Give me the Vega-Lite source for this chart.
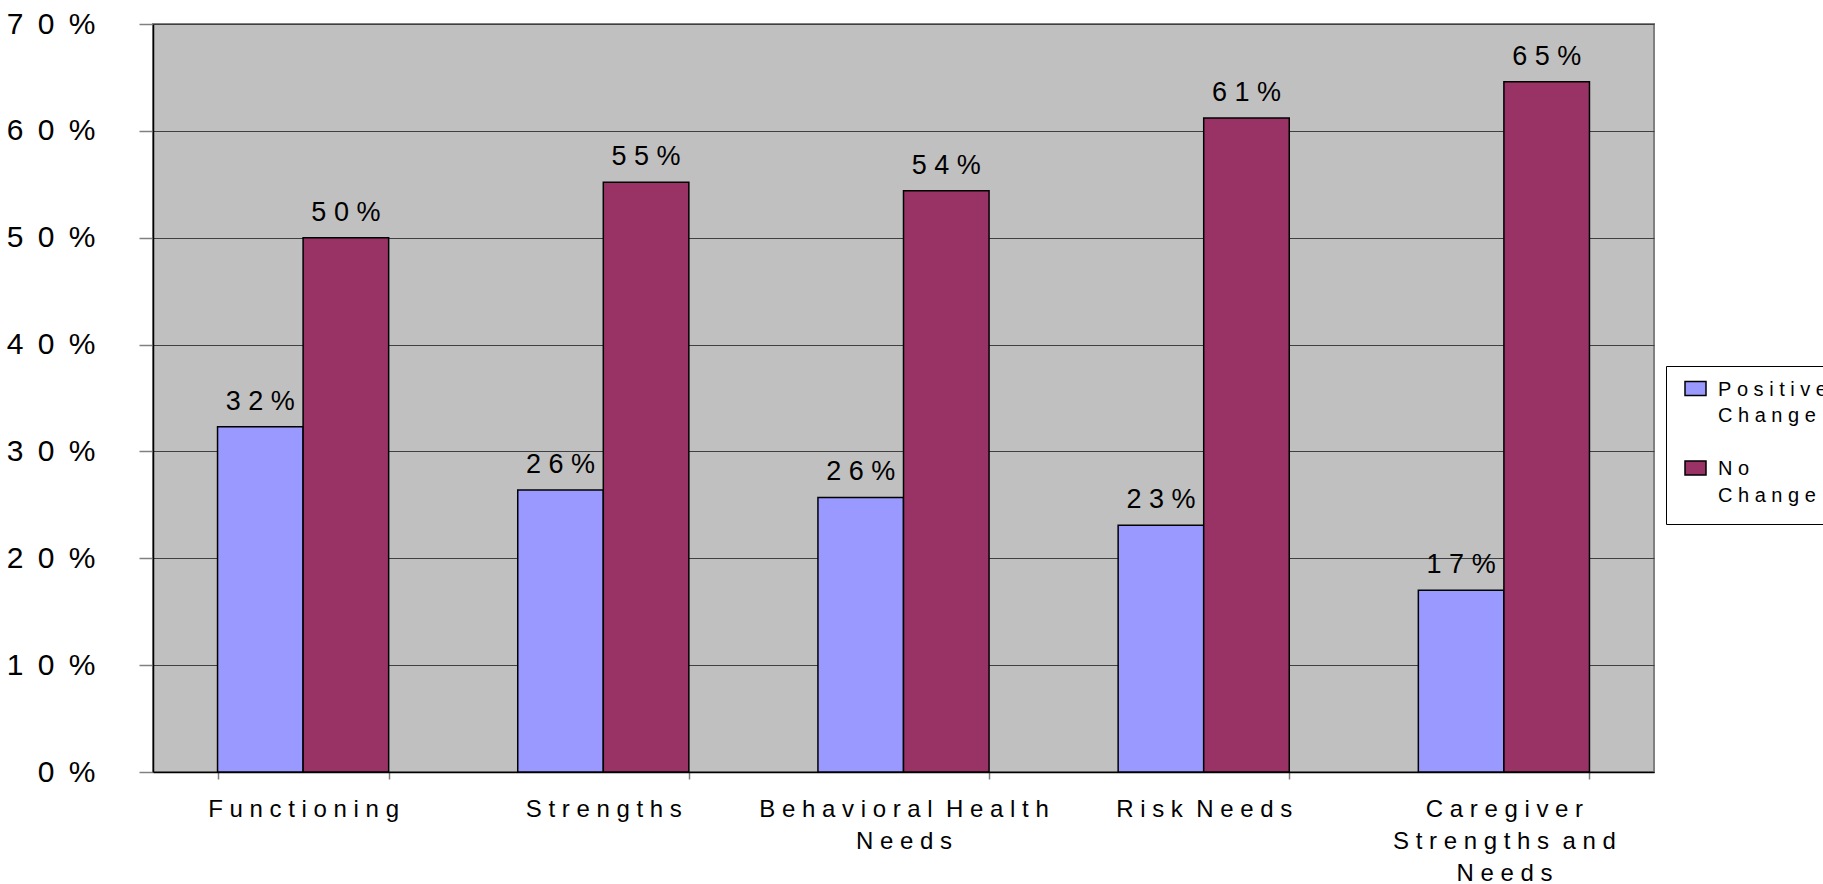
{
  "$schema": "https://vega.github.io/schema/vega-lite/v6.json",
  "autosize": {"type": "none"},
  "padding": {"left": 153, "top": 24, "right": 169, "bottom": 112},
  "width": 1501,
  "height": 748,
  "background": "white",
  "config": {
    "font": "Liberation Sans",
    "view": {"fill": "#C0C0C0", "stroke": "#808080", "strokeWidth": 2}
  },
  "data": {
    "values": [
      {"category": "Functioning", "series": "Positive Change", "value": 0.323},
      {"category": "Functioning", "series": "No Change", "value": 0.500},
      {"category": "Strengths", "series": "Positive Change", "value": 0.264},
      {"category": "Strengths", "series": "No Change", "value": 0.552},
      {"category": "Behavioral Health Needs", "series": "Positive Change", "value": 0.257},
      {"category": "Behavioral Health Needs", "series": "No Change", "value": 0.544},
      {"category": "Risk Needs", "series": "Positive Change", "value": 0.231},
      {"category": "Risk Needs", "series": "No Change", "value": 0.612},
      {"category": "Caregiver Strengths and Needs", "series": "Positive Change", "value": 0.170},
      {"category": "Caregiver Strengths and Needs", "series": "No Change", "value": 0.646}
    ]
  },
  "encoding": {
    "x": {
      "field": "category",
      "type": "nominal",
      "sort": ["Functioning", "Strengths", "Behavioral Health Needs", "Risk Needs", "Caregiver Strengths and Needs"],
      "scale": {"paddingInner": 0.43, "paddingOuter": 0.215},
      "axis": {
        "title": null,
        "tickBand": "extent",
        "tickSize": 7,
        "tickColor": "#808080",
        "tickWidth": 1.5,
        "domainColor": "black",
        "domainWidth": 1.5,
        "labelFontSize": 24,
        "labelLineHeight": 32,
        "labelPadding": 18,
        "labelAngle": 0,
        "labelColor": "black",
        "labelLimit": 0,
        "labelBaseline": "top",
        "labelExpr": "split(replace(datum.label == 'Behavioral Health Needs' ? 'Behavioral Health|Needs' : datum.label == 'Caregiver Strengths and Needs' ? 'Caregiver|Strengths and|Needs' : datum.label, regexp('([^ ])(?=.)', 'g'), '$1\u00a0'), '\u00a0|\u00a0')"
      }
    },
    "xOffset": {
      "field": "series",
      "type": "nominal",
      "sort": ["Positive Change", "No Change"],
      "scale": {"paddingInner": 0, "paddingOuter": 0}
    },
    "y": {
      "field": "value",
      "type": "quantitative",
      "scale": {"domain": [0, 0.7], "nice": false},
      "axis": {
        "title": null,
        "values": [0, 0.1, 0.2, 0.3, 0.4, 0.5, 0.6, 0.7],
        "format": ".0%",
        "labelExpr": "replace(datum.label, regexp('(.)(?=.)', 'g'), '$1\u00a0\u2009')",
        "labelFontSize": 30,
        "labelColor": "black",
        "labelPadding": 44,
        "labelOverlap": false,
        "labelFlush": false,
        "tickSize": 14,
        "tickColor": "#808080",
        "tickWidth": 1.5,
        "domainColor": "black",
        "domainWidth": 1.5,
        "grid": true,
        "gridColor": "#404040",
        "gridWidth": 1
      }
    }
  },
  "layer": [
    {
      "mark": {"type": "bar", "stroke": "black", "strokeWidth": 1.5},
      "encoding": {
        "color": {
          "field": "series",
          "type": "nominal",
          "sort": ["Positive Change", "No Change"],
          "scale": {"domain": ["Positive Change", "No Change"], "range": ["#9999FF", "#993366"]},
          "legend": {
            "title": null,
            "orient": "none",
            "legendX": 1513,
            "legendY": 342,
            "fillColor": "white",
            "strokeColor": "black",
            "padding": 18,
            "symbolType": "M-1,-1.333H1V0H-1Z",
            "symbolSize": 441,
            "symbolStrokeColor": "black",
            "symbolStrokeWidth": 1.5,
            "labelFontSize": 20,
            "labelBaseline": "alphabetic",
            "labelOffset": 11,
            "labelLimit": 0,
            "labelColor": "black",
            "rowPadding": 31.5,
            "labelExpr": "split(replace(replace(datum.label, ' ', '|'), regexp('(.)(?=.)', 'g'), '$1\u00a0'), '\u00a0|\u00a0')",
            "encode": {
              "labels": {"update": {"lineHeight": {"value": 26.5}}}
            }
          }
        }
      }
    },
    {
      "mark": {
        "type": "text",
        "baseline": "alphabetic",
        "dy": -17,
        "fontSize": 27,
        "color": "black",
        "text": {"expr": "replace(format(datum.value, '.0%'), regexp('(.)(?=.)', 'g'), '$1\u00a0')"}
      }
    }
  ]
}
